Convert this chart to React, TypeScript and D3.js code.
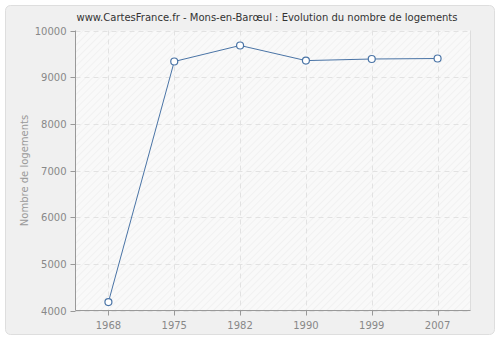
import React from "react";
import * as d3 from "d3";

const years = ["1968", "1975", "1982", "1990", "1999", "2007"];
const logements = [4180, 9336, 9679, 9355, 9389, 9400];
const yTicks = [4000, 5000, 6000, 7000, 8000, 9000, 10000];
const title = "www.CartesFrance.fr - Mons-en-Barœul : Evolution du nombre de logements";
const yLabel = "Nombre de logements";

export default function App() {
  const W = 500, H = 340;
  const L = 75.5, R = 470.5, T = 30.5, B = 310.5;
  const x = d3.scaleBand<string>().domain(years).range([L, R]);
  const y = d3.scaleLinear().domain([4000, 10000]).range([B, T]);
  const cx = (d: string) => (x(d) as number) + x.bandwidth() / 2;
  const line = d3.line<number>().x((_, i) => cx(years[i])).y((d) => y(d));
  const font = "DejaVu Sans, Verdana, sans-serif";
  return (
    <svg width={W} height={H} style={{ position: "absolute", left: 0, top: 0, display: "block" }} fontFamily={font}>
      <defs>
        <pattern id="hatch" patternUnits="userSpaceOnUse" width="5" height="5" patternTransform="rotate(45)">
          <rect width="5" height="5" fill="#f9f9f9" />
          <line x1="0" y1="0" x2="0" y2="5" stroke="#ededed" strokeWidth="1.2" />
        </pattern>
      </defs>
      <rect x={0} y={0} width={W} height={H} fill="#ffffff" />
      <rect x={5.5} y={5.5} width={489} height={329} rx={5} fill="#f0f0f0" stroke="#dedede" />
      <rect x={L} y={T} width={R - L} height={B - T} fill="url(#hatch)" />
      {yTicks.map((t) => (
        <line key={"gy" + t} x1={L} x2={R} y1={Math.round(y(t)) + 0.5} y2={Math.round(y(t)) + 0.5} stroke="#e2e2e2" strokeDasharray="5,4" />
      ))}
      {years.map((yr) => (
        <line key={"gx" + yr} x1={Math.round(cx(yr)) + 0.5} x2={Math.round(cx(yr)) + 0.5} y1={T} y2={B} stroke="#e2e2e2" strokeDasharray="5,4" />
      ))}
      <line x1={R} x2={R} y1={T} y2={B} stroke="#dddddd" />
      <line x1={L} x2={L} y1={T} y2={B} stroke="#999999" />
      <line x1={L} x2={R} y1={B} y2={B} stroke="#999999" />
      {yTicks.map((t) => (
        <g key={"ty" + t}>
          <line x1={L - 5} x2={L} y1={Math.round(y(t)) + 0.5} y2={Math.round(y(t)) + 0.5} stroke="#999999" />
          <text x={L - 9} y={y(t) + 4} textAnchor="end" fontSize={10} fill="#888888">{t}</text>
        </g>
      ))}
      {years.map((yr) => (
        <g key={"tx" + yr}>
          <line x1={Math.round(cx(yr)) + 0.5} x2={Math.round(cx(yr)) + 0.5} y1={B} y2={B + 5} stroke="#999999" />
          <text x={cx(yr)} y={B + 18} textAnchor="middle" fontSize={10} fill="#888888">{yr}</text>
        </g>
      ))}
      <path d={line(logements) || ""} fill="none" stroke="#4a74a6" strokeWidth={1} />
      {logements.map((v, i) => (
        <circle key={"p" + i} cx={cx(years[i])} cy={y(v)} r={3.5} fill="#ffffff" stroke="#4a74a6" strokeWidth={1.2} />
      ))}
      <text x={267} y={21} textAnchor="middle" fontSize={10} fill="#333333">{title}</text>
      <text transform={`translate(28,${(T + B) / 2}) rotate(-90)`} textAnchor="middle" fontSize={10} fill="#999999">{yLabel}</text>
    </svg>
  );
}
